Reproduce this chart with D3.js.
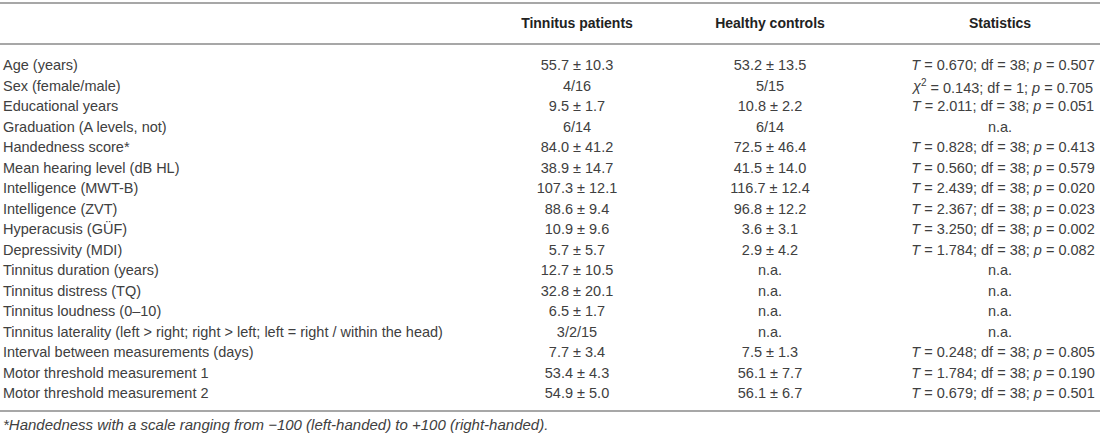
<!DOCTYPE html>
<html>
<head>
<meta charset="utf-8">
<script src="https://cdn.jsdelivr.net/npm/d3@7"></script>
<style>
  html, body { margin: 0; padding: 0; background: #fff; }
  svg { display: block; font-family: "Liberation Sans", Arial, Helvetica, sans-serif; }
</style>
</head>
<body>
<svg id="table" width="1100" height="436"></svg>
<script>
// table contents
const rowLabels = [
  "Age (years)",
  "Sex (female/male)",
  "Educational years",
  "Graduation (A levels, not)",
  "Handedness score*",
  "Mean hearing level (dB HL)",
  "Intelligence (MWT-B)",
  "Intelligence (ZVT)",
  "Hyperacusis (GÜF)",
  "Depressivity (MDI)",
  "Tinnitus duration (years)",
  "Tinnitus distress (TQ)",
  "Tinnitus loudness (0–10)",
  "Tinnitus laterality (left > right; right > left; left = right / within the head)",
  "Interval between measurements (days)",
  "Motor threshold measurement 1",
  "Motor threshold measurement 2",
];
const patients = [
  "55.7 ± 10.3", "4/16", "9.5 ± 1.7", "6/14", "84.0 ± 41.2", "38.9 ± 14.7",
  "107.3 ± 12.1", "88.6 ± 9.4", "10.9 ± 9.6", "5.7 ± 5.7", "12.7 ± 10.5",
  "32.8 ± 20.1", "6.5 ± 1.7", "3/2/15", "7.7 ± 3.4", "53.4 ± 4.3", "54.9 ± 5.0",
];
const controls = [
  "53.2 ± 13.5", "5/15", "10.8 ± 2.2", "6/14", "72.5 ± 46.4", "41.5 ± 14.0",
  "116.7 ± 12.4", "96.8 ± 12.2", "3.6 ± 3.1", "2.9 ± 4.2", "n.a.",
  "n.a.", "n.a.", "n.a.", "7.5 ± 1.3", "56.1 ± 7.7", "56.1 ± 6.7",
];
// statistics: test name, value, degrees of freedom, p (null = n.a.)
const testStat = ["T", "chi", "T", null, "T", "T", "T", "T", "T", "T", null, null, null, null, "T", "T", "T"];
const testValue = ["0.670", "0.143", "2.011", null, "0.828", "0.560", "2.439", "2.367", "3.250", "1.784", null, null, null, null, "0.248", "1.784", "0.679"];
const dfValue = ["38", "1", "38", null, "38", "38", "38", "38", "38", "38", null, null, null, null, "38", "38", "38"];
const pValue = ["0.507", "0.705", "0.051", null, "0.413", "0.579", "0.020", "0.023", "0.002", "0.082", null, null, null, null, "0.805", "0.190", "0.501"];
const columnHeaders = ["", "Tinnitus patients", "Healthy controls", "Statistics"];
const footnote = "*Handedness with a scale ranging from −100 (left-handed) to +100 (right-handed).";

const width = 1100;
const fontSize = 14.5;
const headerFontSize = 14;
const textColor = "#404040";
const ruleColor = "#8a8a8a";

const svg = d3.select("#table");

const y = d3
  .scalePoint()
  .domain(d3.range(rowLabels.length))
  .range([65, 393]);

const x = d3
  .scaleOrdinal()
  .domain(columnHeaders)
  .range([3, 577, 770, 1003]);

// horizontal rules
[3, 44, 411].forEach((ry) => {
  svg
    .append("line")
    .attr("x1", 0)
    .attr("x2", width)
    .attr("y1", ry)
    .attr("y2", ry)
    .style("stroke", ruleColor)
    .style("stroke-width", 1.4);
});

// header
svg
  .append("g")
  .selectAll("text")
  .data(columnHeaders.slice(1))
  .join("text")
  .attr("x", (d, i) => (i == 2 ? 1000 : x(d)))
  .attr("y", 23)
  .attr("dy", "0.35em")
  .attr("text-anchor", "middle")
  .style("font-size", headerFontSize + "px")
  .style("font-weight", "bold")
  .style("fill", "#222")
  .text((d) => d);

const rows = svg
  .append("g")
  .selectAll("g")
  .data(rowLabels)
  .join("g")
  .attr("transform", (d, i) => "translate(0," + y(i) + ")")
  .style("font-size", fontSize + "px")
  .style("fill", textColor);

rows
  .append("text")
  .attr("x", x(""))
  .attr("dy", "0.35em")
  .text((d) => d);

rows
  .append("text")
  .attr("x", x(columnHeaders[1]))
  .attr("dy", "0.35em")
  .attr("text-anchor", "middle")
  .text((d, i) => patients[i]);

rows
  .append("text")
  .attr("x", x(columnHeaders[2]))
  .attr("dy", "0.35em")
  .attr("text-anchor", "middle")
  .text((d, i) => controls[i]);

// statistics with italic symbols
rows.each(function (d, i) {
  const t = d3
    .select(this)
    .append("text")
    .attr("x", x(columnHeaders[3]))
    .attr("dy", "0.35em")
    .attr("text-anchor", "middle");
  if (testStat[i] == null) {
    t.attr("x", 1000).text("n.a.");
    return;
  }
  if (testStat[i] == "chi") {
    t.append("tspan").style("font-style", "italic").text("χ");
    t.append("tspan")
      .attr("dy", "-0.45em")
      .style("font-size", "10px")
      .text("2");
    t.append("tspan").attr("dy", "0.45em").text(" = " + testValue[i] + "; df = " + dfValue[i] + "; ");
  } else {
    t.append("tspan").style("font-style", "italic").text(testStat[i]);
    t.append("tspan").text(" = " + testValue[i] + "; df = " + dfValue[i] + "; ");
  }
  t.append("tspan").style("font-style", "italic").text("p");
  t.append("tspan").text(" = " + pValue[i]);
});

// footnote
svg
  .append("text")
  .attr("x", 3)
  .attr("y", 425)
  .attr("dy", "0.35em")
  .style("font-size", "15px")
  .style("font-style", "italic")
  .style("fill", textColor)
  .text(footnote);
</script>
</body>
</html>
